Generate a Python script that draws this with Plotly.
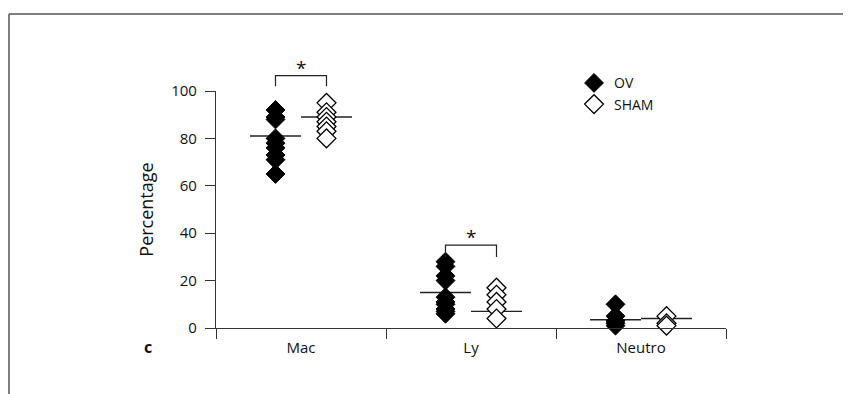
import plotly.graph_objects as go

# ---- data ----
categories = ["Mac", "Ly", "Neutro"]
ov_mac = [92, 89, 88, 80, 78, 76, 73, 71, 65]
sham_mac = [95, 91, 89, 87, 85, 83, 80]
ov_ly = [28, 26, 22, 20, 13, 11, 10, 8, 7, 6]
sham_ly = [17, 14, 11, 8, 4]
ov_neutro = [10, 5, 3, 2, 1]
sham_neutro = [5, 2, 1]
ov_means = [81, 15, 3.5]
sham_means = [89, 7, 4]
y_ticks = [0, 20, 40, 60, 80, 100]
# significance brackets: (category index, bracket top, leg bottom)
brackets = [(0, 106.5, 102), (1, 35, 30)]

# the page body has an 8px margin, so the figure is 8px smaller
W, H = 843, 386
ML, MT = 208, 83
PW, PH = 510, 237
MR = W - ML - PW
MB = H - MT - PH
XMIN, XMAX = -0.5, 2.5
YMIN, YMAX = 0, 100
OFF = 0.15
HALF = 0.15
FONT = "Open Sans"

def xp(x):
    return (x - XMIN) / (XMAX - XMIN)

def yp(y):
    return (y - YMIN) / (YMAX - YMIN)

ov_groups = [ov_mac, ov_ly, ov_neutro]
sham_groups = [sham_mac, sham_ly, sham_neutro]

fig = go.Figure()

# mean lines (below markers)
for i in range(len(categories)):
    for pos, m in ((i - OFF, ov_means[i]), (i + OFF, sham_means[i])):
        fig.add_trace(go.Scatter(
            x=[pos - HALF, pos + HALF], y=[m, m], mode="lines",
            line=dict(color="#222", width=1.4), showlegend=False,
            hoverinfo="skip", cliponaxis=False))

ov_x, ov_y, sh_x, sh_y = [], [], [], []
for i, g in enumerate(ov_groups):
    ov_x += [i - OFF] * len(g)
    ov_y += g
for i, g in enumerate(sham_groups):
    sh_x += [i + OFF] * len(g)
    sh_y += g

fig.add_trace(go.Scatter(
    x=ov_x, y=ov_y, mode="markers", name="OV", cliponaxis=False,
    marker=dict(symbol="diamond", size=14.5, color="black",
                line=dict(color="black", width=1))))
fig.add_trace(go.Scatter(
    x=sh_x, y=sh_y, mode="markers", name="SHAM", cliponaxis=False,
    marker=dict(symbol="diamond", size=14.5, color="white",
                line=dict(color="black", width=1.3))))

shapes = []
annotations = []
for ci, top, leg in brackets:
    x0, x1 = xp(ci - OFF), xp(ci + OFF)
    shapes.append(dict(
        type="path", xref="paper", yref="paper",
        path=f"M {x0},{yp(leg)} L {x0},{yp(top)} L {x1},{yp(top)} L {x1},{yp(leg)}",
        line=dict(color="#222", width=1.2)))
    annotations.append(dict(
        x=xp(ci), y=yp(top), xref="paper", yref="paper", text="*",
        showarrow=False, xanchor="center", yanchor="bottom", yshift=-7,
        font=dict(family=FONT, size=19, color="#111")))

# outer frame (top and left edges of the figure panel)
fx = (1 - ML) / PW
fy_top = (H - MB - 6) / PH
fy_bot = (H - MB - H - 5) / PH
shapes.append(dict(type="line", xref="paper", yref="paper",
                   x0=fx, x1=(W + 5 - ML) / PW, y0=fy_top, y1=fy_top,
                   line=dict(color="#555", width=1.5)))
shapes.append(dict(type="line", xref="paper", yref="paper",
                   x0=fx, x1=fx, y0=fy_top, y1=fy_bot,
                   line=dict(color="#555", width=1.5)))

annotations.append(dict(
    x=(140 - ML) / PW, y=(H - MB - 339) / PH, xref="paper", yref="paper",
    text="<b>c</b>", showarrow=False, xanchor="center", yanchor="middle",
    font=dict(family=FONT, size=16, color="#111")))

fig.update_layout(
    width=W, height=H,
    margin=dict(l=ML, r=MR, t=MT, b=MB),
    paper_bgcolor="white", plot_bgcolor="white",
    font=dict(family=FONT, size=15, color="#111"),
    shapes=shapes, annotations=annotations,
    legend=dict(x=0.702, y=1.10, xanchor="left", yanchor="top",
                bgcolor="rgba(0,0,0,0)", font=dict(size=14),
                itemwidth=30, tracegroupgap=0),
    xaxis=dict(range=[XMIN, XMAX], tickvals=list(range(len(categories))),
               ticktext=categories, ticks="outside", ticklen=6,
               tickcolor="rgba(0,0,0,0)", showgrid=False, zeroline=False,
               showline=True, linecolor="#333", linewidth=1.2,
               minor=dict(tickvals=[-0.5, 0.5, 1.5, 2.5], ticks="outside",
                          ticklen=10, tickcolor="#333", tickwidth=1.2,
                          showgrid=False)),
    yaxis=dict(range=[YMIN, YMAX], tickvals=y_ticks, ticks="outside",
               ticklen=10, tickcolor="#333", tickwidth=1.2,
               ticklabelstandoff=5,
               showgrid=False, zeroline=False, showline=True,
               linecolor="#333", linewidth=1.2,
               title=dict(text="Percentage", standoff=12)),
)

fig.write_html("out.html")
